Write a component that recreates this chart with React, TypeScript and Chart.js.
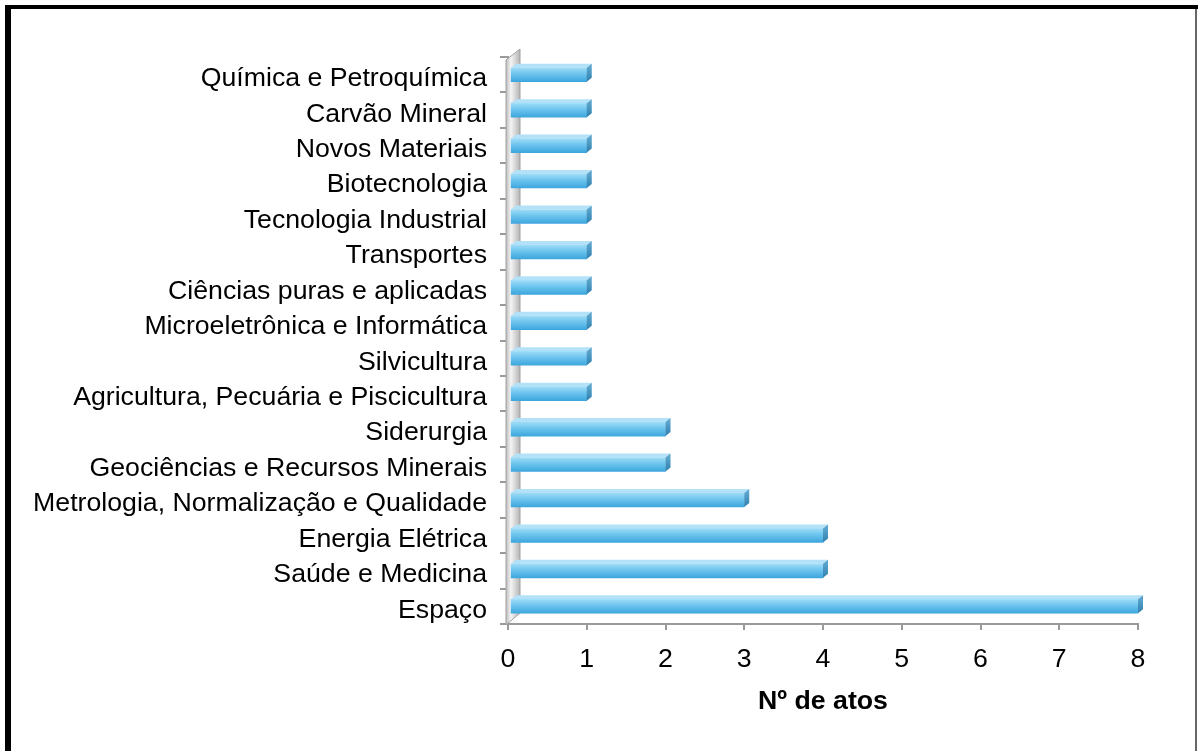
import React, { useEffect, useRef } from "react";
import { Chart, registerables } from "chart.js";

Chart.register(...registerables);

const categories = [
  "Química e Petroquímica",
  "Carvão Mineral",
  "Novos Materiais",
  "Biotecnologia",
  "Tecnologia Industrial",
  "Transportes",
  "Ciências puras e aplicadas",
  "Microeletrônica e Informática",
  "Silvicultura",
  "Agricultura, Pecuária e Piscicultura",
  "Siderurgia",
  "Geociências e Recursos Minerais",
  "Metrologia, Normalização e Qualidade",
  "Energia Elétrica",
  "Saúde e Medicina",
  "Espaço",
];

const atos = [1, 1, 1, 1, 1, 1, 1, 1, 1, 1, 2, 2, 3, 4, 4, 8];

const xTicks = [0, 1, 2, 3, 4, 5, 6, 7, 8];
const xTitle = "Nº de atos";

const FONT = "'Liberation Sans', Arial, Helvetica, sans-serif";
const DEPTH = 5;

const framePlugin = {
  id: "frame",
  beforeDraw(chart: any) {
    const { ctx, width, height } = chart;
    ctx.save();
    ctx.fillStyle = "#ffffff";
    ctx.fillRect(0, 0, width, height);
    ctx.fillStyle = "#000000";
    ctx.fillRect(5, 5, 6, height - 5);
    ctx.fillRect(5, 5, width - 5, 4);
    ctx.fillStyle = "#666666";
    ctx.fillRect(1195, 9, 2, height - 9);
    ctx.restore();
  },
  beforeDatasetsDraw(chart: any) {
    const { ctx, chartArea } = chart;
    const x0 = chart.scales.x.getPixelForValue(0) - 2;
    const top = chartArea.top + 3;
    const bottom = chartArea.bottom + 1;
    ctx.save();
    const g = ctx.createLinearGradient(x0, 0, x0 + 14, 0);
    g.addColorStop(0, "#bdbdbd");
    g.addColorStop(0.35, "#f4f4f4");
    g.addColorStop(1, "#b5b5b5");
    ctx.fillStyle = g;
    ctx.beginPath();
    ctx.moveTo(x0, bottom);
    ctx.lineTo(x0, top);
    ctx.lineTo(x0 + 14, top - 11);
    ctx.lineTo(x0 + 14, bottom - 12);
    ctx.closePath();
    ctx.fill();
    ctx.strokeStyle = "#a0a0a0";
    ctx.lineWidth = 1;
    ctx.stroke();
    ctx.restore();
  },
  afterDatasetsDraw(chart: any) {
    const { ctx } = chart;
    const meta = chart.getDatasetMeta(0);
    ctx.save();
    meta.data.forEach((bar: any) => {
      const { x, y, base, height } = bar;
      if (![x, y, base, height].every((v) => Number.isFinite(v))) return;
      const t = y - height / 2;
      const b = y + height / 2;
      ctx.fillStyle = "#b3e2f8";
      ctx.beginPath();
      ctx.moveTo(base, t);
      ctx.lineTo(base + DEPTH, t - DEPTH + 1);
      ctx.lineTo(x + DEPTH, t - DEPTH + 1);
      ctx.lineTo(x, t);
      ctx.closePath();
      ctx.fill();
      const g = ctx.createLinearGradient(0, t, 0, b);
      g.addColorStop(0, "#5aa4cc");
      g.addColorStop(1, "#2f7fae");
      ctx.fillStyle = g;
      ctx.beginPath();
      ctx.moveTo(x, t);
      ctx.lineTo(x + DEPTH, t - DEPTH + 1);
      ctx.lineTo(x + DEPTH, b - DEPTH + 1);
      ctx.lineTo(x, b);
      ctx.closePath();
      ctx.fill();
    });
    ctx.restore();
  },
};

export default function App() {
  const ref = useRef<HTMLCanvasElement | null>(null);

  useEffect(() => {
    document.body.style.margin = "0";
    const canvas = ref.current;
    if (!canvas) return;
    const chart = new Chart(canvas, {
      type: "bar",
      data: {
        labels: categories,
        datasets: [
          {
            data: atos,
            base: 0.04,
            barThickness: 14,
            borderWidth: 0,
            backgroundColor: (c: any) => {
              const ch = c.chart;
              const ys = ch.scales && ch.scales.y;
              if (!ys || !ch.chartArea || typeof c.dataIndex !== "number") return "#5bbbe9";
              const y = ys.getPixelForValue(c.dataIndex);
              if (!Number.isFinite(y)) return "#5bbbe9";
              const g = ch.ctx.createLinearGradient(0, y - 7, 0, y + 7);
              g.addColorStop(0, "#9fdcf7");
              g.addColorStop(0.45, "#6cc4ee");
              g.addColorStop(1, "#3ea6dd");
              return g;
            },
          },
        ],
      },
      options: {
        indexAxis: "y",
        animation: false,
        responsive: false,
        maintainAspectRatio: false,
        layout: { padding: { top: 57, right: 60, bottom: 0, left: 0 } },
        plugins: {
          legend: { display: false },
          tooltip: { enabled: false },
          title: { display: false },
        },
        scales: {
          x: {
            type: "linear",
            min: 0,
            max: 8,
            afterBuildTicks: (s: any) => {
              s.ticks = xTicks.map((v) => ({ value: v }));
            },
            afterFit: (s: any) => {
              s.height = 127;
            },
            ticks: {
              stepSize: 1,
              color: "#000000",
              padding: 14,
              font: { family: FONT, size: 26.7 },
            },
            grid: {
              drawOnChartArea: false,
              drawTicks: true,
              tickLength: 6,
              color: "#9a9a9a",
              lineWidth: 2,
            },
            border: { display: true, color: "#9a9a9a", width: 2 },
            title: {
              display: true,
              text: xTitle,
              color: "#000000",
              font: { family: FONT, size: 26.7, weight: "bold" },
              padding: { top: 0, bottom: 33 },
            },
          },
          y: {
            type: "category",
            afterFit: (s: any) => {
              s.width = 508;
            },
            ticks: {
              color: "#000000",
              padding: 13,
              labelOffset: 4,
              font: { family: FONT, size: 26.7 },
            },
            grid: {
              offset: true,
              drawOnChartArea: false,
              drawTicks: true,
              tickLength: 8,
              color: "#9a9a9a",
              lineWidth: 2,
            },
            border: { display: true, color: "#9a9a9a", width: 2 },
          },
        },
      },
      plugins: [framePlugin],
    } as any);
    return () => chart.destroy();
  }, []);

  return (
    <div style={{ position: "relative", width: 1198, height: 751 }}>
      <canvas ref={ref} width={1198} height={751} style={{ display: "block" }} />
    </div>
  );
}
